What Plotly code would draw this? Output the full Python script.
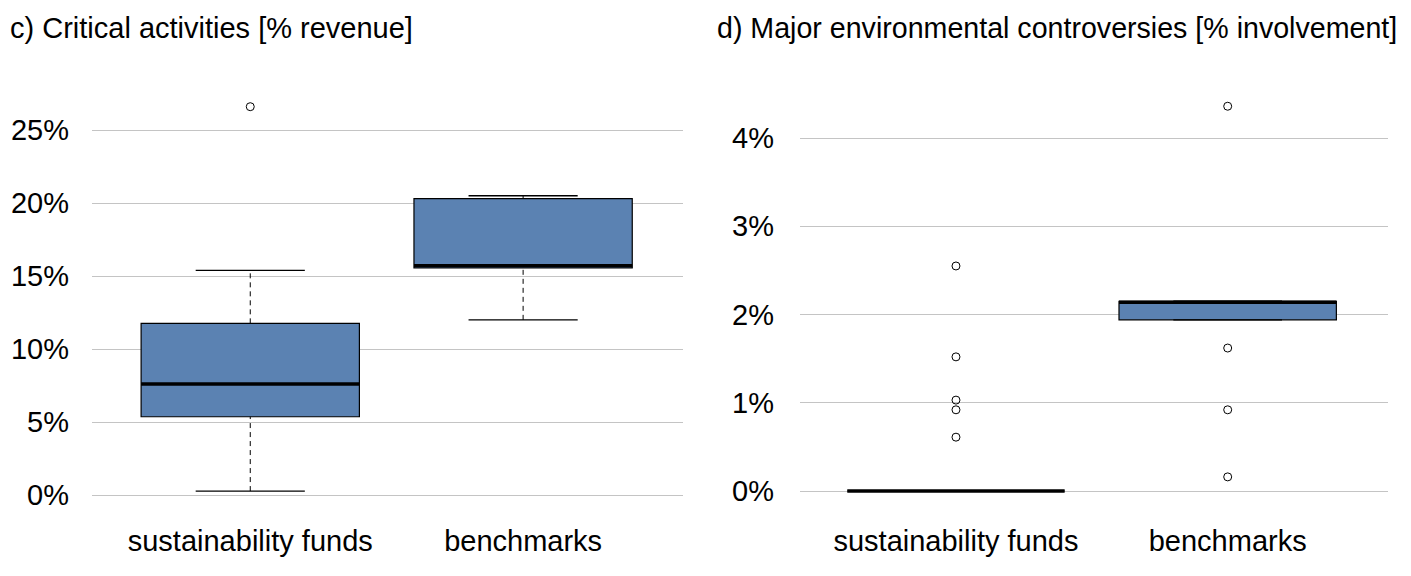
import plotly.graph_objects as go
from plotly.subplots import make_subplots

categories = ["sustainability funds", "benchmarks"]
positions = [1, 2]

# c) Critical activities [% revenue]
crit_q1 = [5.36, 15.55]
crit_med = [7.6, 15.7]
crit_q3 = [11.76, 20.3]
crit_lo = [0.27, 12.0]
crit_hi = [15.39, 20.5]
crit_out = [[26.6], []]
crit_ticks = [0, 5, 10, 15, 20, 25]

# d) Major environmental controversies [% involvement]
contr_q1 = [0.0, 1.94]
contr_med = [0.0, 2.14]
contr_q3 = [0.0, 2.15]
contr_lo = [0.0, 1.94]
contr_hi = [0.0, 2.15]
contr_out = [[2.55, 1.52, 1.03, 0.92, 0.61], [4.36, 1.62, 0.92, 0.16]]
contr_ticks = [0, 1, 2, 3, 4]

titles = ["c) Critical activities [% revenue]",
          "d) Major environmental controversies [% involvement]"]

FILL = "#5B82B2"
GRID = "#C4C4C4"
FONT = "Liberation Sans, Arial, sans-serif"
FS = 29
BOXW = 0.8

W, H = 1403, 568
T, B = 73, 55
PH = H - T - B

fig = make_subplots(rows=1, cols=2)


def add_panel(col, q1, med, q3, lo, hi, outs):
    for i, p in enumerate(positions):
        fig.add_trace(go.Box(x=[p], q1=[q1[i]], median=[med[i]], q3=[q3[i]],
                             lowerfence=[q1[i]], upperfence=[q3[i]],
                             width=BOXW, fillcolor=FILL,
                             line=dict(color="black", width=1.2),
                             whiskerwidth=0, boxpoints=False, hoverinfo="skip",
                             showlegend=False), row=1, col=col)
        if hi[i] > q3[i]:
            fig.add_trace(go.Scatter(x=[p, p], y=[q3[i], hi[i]], mode="lines",
                                     line=dict(color="black", width=1, dash="5px,4px"),
                                     showlegend=False, hoverinfo="skip"), row=1, col=col)
        if lo[i] < q1[i]:
            fig.add_trace(go.Scatter(x=[p, p], y=[lo[i], q1[i]], mode="lines",
                                     line=dict(color="black", width=1, dash="5px,4px"),
                                     showlegend=False, hoverinfo="skip"), row=1, col=col)
        for v in (lo[i], hi[i]):
            fig.add_trace(go.Scatter(x=[p - BOXW / 4, p + BOXW / 4], y=[v, v], mode="lines",
                                     line=dict(color="black", width=1.3),
                                     showlegend=False, hoverinfo="skip"), row=1, col=col)
        fig.add_trace(go.Scatter(x=[p - BOXW / 2, p + BOXW / 2], y=[med[i], med[i]], mode="lines",
                                 line=dict(color="black", width=3.5),
                                 showlegend=False, hoverinfo="skip"), row=1, col=col)
        if outs[i]:
            fig.add_trace(go.Scatter(x=[p] * len(outs[i]), y=outs[i], mode="markers",
                                     marker=dict(symbol="circle-open", size=8, color="black",
                                                 line=dict(width=1)),
                                     showlegend=False, hoverinfo="skip"), row=1, col=col)


add_panel(1, crit_q1, crit_med, crit_q3, crit_lo, crit_hi, crit_out)
add_panel(2, contr_q1, contr_med, contr_q3, contr_lo, contr_hi, contr_out)

axis_common = dict(showline=False, zeroline=False, ticks="",
                   tickfont=dict(family=FONT, size=FS, color="black"))

fig.update_xaxes(tickmode="array", tickvals=positions, ticktext=categories,
                 showgrid=False, **axis_common)
fig.update_xaxes(domain=[84 / W, 675 / W], range=[0.42, 2.586], row=1, col=1)
fig.update_xaxes(domain=[792 / W, 1380 / W], range=[0.426, 2.59], row=1, col=2)

fig.update_yaxes(showgrid=True, gridcolor=GRID, gridwidth=1, tickmode="array",
                 ticklabelstandoff=22, **axis_common)
fig.update_yaxes(range=[-1.78, 28.36], tickvals=crit_ticks,
                 ticktext=[f"{v}%" for v in crit_ticks], row=1, col=1)
fig.update_yaxes(range=[-0.34, 4.646], tickvals=contr_ticks,
                 ticktext=[f"{v}%" for v in contr_ticks], ticklabelstandoff=25, row=1, col=2)

title_y = 1 + (T - 20) / PH
fig.add_annotation(text=titles[0], x=0 / W, y=title_y, xref="paper", yref="paper",
                   xanchor="left", yanchor="middle", showarrow=False,
                   font=dict(family=FONT, size=FS, color="black"))
fig.add_annotation(text=titles[1], x=707 / W, y=title_y, xref="paper", yref="paper",
                   xanchor="left", yanchor="middle", showarrow=False,
                   font=dict(family=FONT, size=28.6, color="black"))

fig.update_layout(width=W, height=H, margin=dict(l=0, r=0, t=T, b=B),
                  plot_bgcolor="white", paper_bgcolor="white", showlegend=False,
                  boxmode="overlay")

fig.write_html("out.html")
